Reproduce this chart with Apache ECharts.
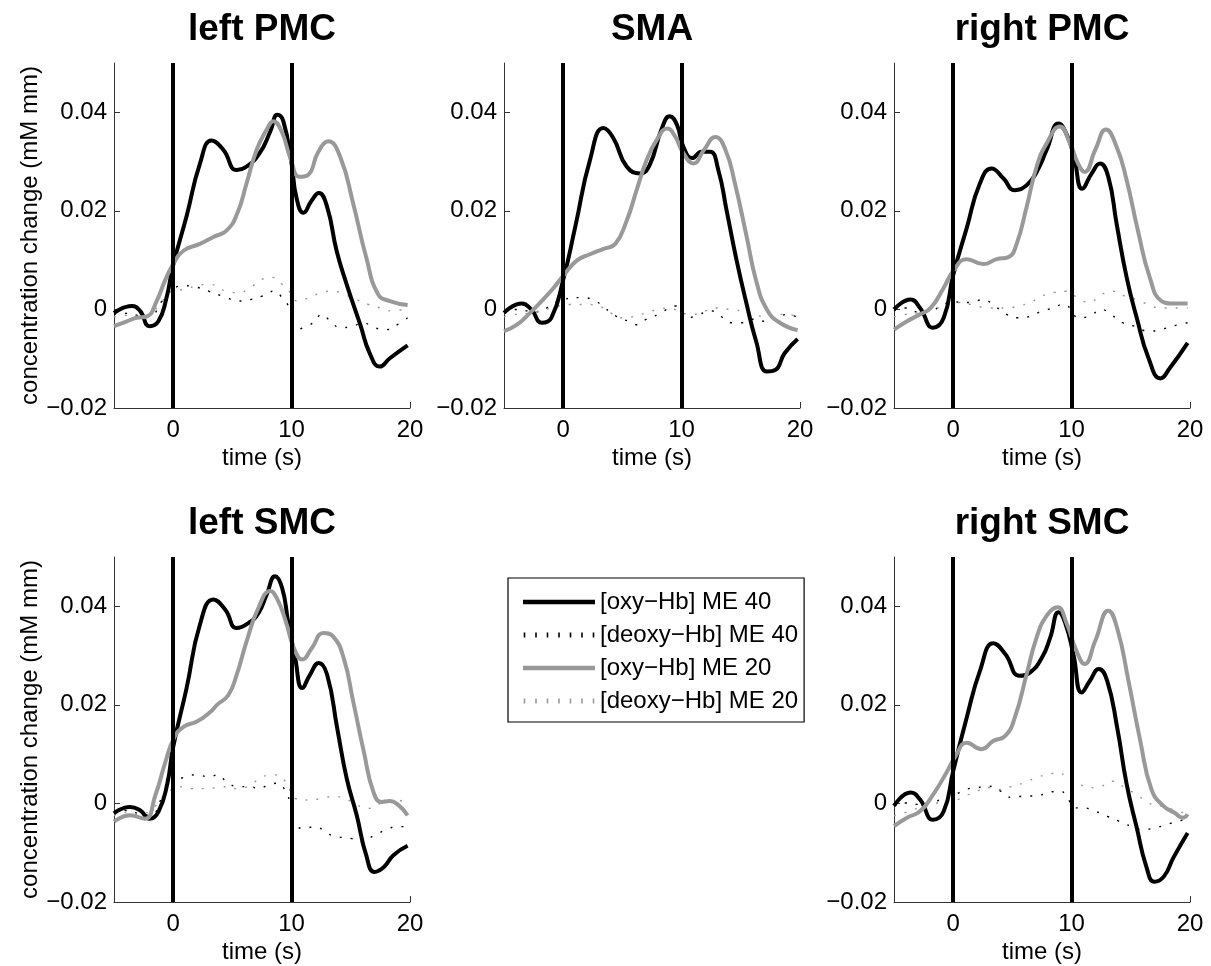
<!DOCTYPE html>
<html><head><meta charset="utf-8">
<script src="https://cdn.jsdelivr.net/npm/echarts@6/dist/echarts.min.js"></script>
<style>html,body{margin:0;padding:0;background:#fff}#c{width:1211px;height:966px}</style>
</head><body><div id="c"></div><script>
const panelTitles = ['left PMC', 'SMA', 'right PMC', 'left SMC', 'right SMC'];
const seriesNames = ['[oxy\u2212Hb] ME 40', '[deoxy\u2212Hb] ME 40', '[oxy\u2212Hb] ME 20', '[deoxy\u2212Hb] ME 20'];
const xTicks = [0, 10, 20];
const yTicks = [-0.02, 0, 0.02, 0.04];
const yTickLabels = ['\u22120.02', '0', '0.02', '0.04'];
const xRange = [-5, 20];
const yRange = [-0.02, 0.05];
const stimulusTimes = [0, 10];
const xAxisName = 'time (s)';
const yAxisName = 'concentration change (mM mm)';

// ---- left PMC ----
const leftPMC_oxy40 = [[-5,-0.0007],[-3.5,0.0007],[-2.8,-0.0003],[-2,-0.0034],[-1.25,-0.0024],[-0.6,0.002],[0,0.009],[1.14,0.019],[2.26,0.0296],[3.25,0.0343],[4.23,0.0324],[5.36,0.0283],[6.2,0.029],[7.3,0.0317],[8.2,0.0361],[8.8,0.0395],[9.3,0.0382],[10,0.0296],[10.4,0.0228],[11,0.0196],[11.7,0.0221],[12.3,0.0236],[13,0.0208],[13.8,0.0119],[14.65,0.0051],[15.8,-0.0031],[16.6,-0.0089],[17.45,-0.0116],[18.3,-0.0099],[19.8,-0.0073]];
const leftPMC_deoxy40 = [[-5,-0.001],[-4,-0.0008],[-3,-0.0012],[-2,-0.0015],[-1,0.0015],[0,0.0042],[1,0.0048],[2,0.0045],[3,0.0037],[4.5,0.0024],[5.5,0.0017],[6.5,0.002],[7.5,0.0027],[8.5,0.0037],[9.2,0.0024],[9.8,0.0003],[10.4,-0.0041],[11,-0.0037],[12,-0.0024],[12.5,-0.001],[13.3,-0.0024],[14.1,-0.0037],[15.2,-0.0034],[16,-0.0027],[17,-0.0037],[18,-0.0041],[19,-0.003],[19.8,-0.0017]];
const leftPMC_oxy20 = [[-5,-0.0034],[-3.9,-0.0024],[-3.1,-0.0017],[-2.2,-0.0014],[-1.4,0.0017],[-0.7,0.0058],[0,0.0092],[0.86,0.0119],[2.26,0.0133],[3.4,0.0147],[4.5,0.016],[5.4,0.0194],[6.2,0.0256],[7.05,0.0324],[7.9,0.0365],[8.46,0.0382],[9.16,0.0361],[9.86,0.031],[10.7,0.0269],[11.4,0.0273],[12.26,0.032],[13.1,0.0341],[14.1,0.031],[15.2,0.0215],[16.3,0.0106],[17.3,0.0031],[18.3,0.0017],[19.8,0.0009]];
const leftPMC_deoxy20 = [[-5,-0.0015],[-4,-0.0012],[-3,-0.0014],[-2,-0.001],[-1,0.0015],[0,0.0038],[1,0.0041],[2,0.0048],[3,0.0051],[4.5,0.0037],[5.5,0.0034],[6.5,0.0044],[7.5,0.0061],[8.4,0.0065],[9.2,0.0051],[9.8,0.0037],[10.5,0.0017],[11.5,0.0024],[12.5,0.0034],[13.5,0.0037],[14.5,0.003],[15.5,0.002],[16.5,0.001],[17.5,0.0003],[18.5,-0.0003],[19.8,0.0003]];

// ---- SMA ----
const SMA_oxy40 = [[-5,-0.0007],[-3.5,0.0012],[-2.7,0],[-1.8,-0.0027],[-1,-0.0017],[0,0.006],[1.04,0.017],[2.26,0.0303],[3.4,0.0368],[4.23,0.0348],[5.36,0.029],[6.5,0.0276],[7.3,0.0293],[8.3,0.0365],[9.0,0.0392],[9.6,0.0375],[10.15,0.033],[10.9,0.0307],[11.7,0.032],[12.4,0.032],[13.1,0.0283],[13.8,0.0201],[14.65,0.0099],[15.5,0.001],[16.3,-0.0065],[17.2,-0.0126],[17.9,-0.0123],[18.7,-0.0089],[19.8,-0.006]];
const SMA_deoxy40 = [[-5,-0.0005],[-4,0],[-3,-0.0003],[-2,-0.0005],[-1,0.001],[0,0.002],[1.5,0.0024],[2.5,0.002],[3.5,0.0003],[4.5,-0.0014],[5.5,-0.0024],[6.2,-0.0031],[7,-0.002],[8,-0.001],[9,0.0003],[9.5,0.0007],[10,-0.0005],[10.5,-0.0017],[11.5,-0.001],[12.5,-0.0003],[13.3,-0.0014],[14.3,-0.0027],[15,-0.0027],[16,-0.002],[17,-0.0024],[18,-0.0017],[19,-0.001],[19.8,-0.0017]];
const SMA_oxy20 = [[-5,-0.0044],[-3.9,-0.0031],[-2.8,-0.0007],[-1.7,0.002],[-0.8,0.0044],[0,0.0068],[1.14,0.0099],[2.26,0.0112],[3.4,0.0123],[4.4,0.0133],[5.36,0.018],[6.2,0.0242],[7.05,0.0303],[7.9,0.0344],[8.8,0.0367],[9.45,0.0351],[10.15,0.0317],[11,0.0296],[11.9,0.0324],[12.85,0.035],[13.7,0.0324],[14.5,0.0256],[15.5,0.0147],[16.3,0.0058],[17.2,0],[18.3,-0.0027],[19.8,-0.0042]];
const SMA_deoxy20 = [[-5,-0.0015],[-4,-0.001],[-3,-0.0008],[-2,-0.0003],[-1,0.0003],[0.5,0.001],[2,0.001],[3,0.0007],[4,-0.0007],[5,-0.0017],[6,-0.0014],[7,-0.0007],[8,0],[9,0.0003],[10,-0.0007],[11,-0.001],[12,-0.0003],[13,0.0003],[14,0],[15,-0.0003],[16,-0.001],[17,-0.0014],[18,-0.001],[19,-0.001],[19.8,-0.0017]];

// ---- right PMC ----
const rightPMC_oxy40 = [[-5,0],[-3.6,0.002],[-2.8,0.0003],[-1.7,-0.0037],[-0.8,-0.0017],[0,0.007],[1.14,0.0165],[2.26,0.0256],[3.25,0.0286],[4.23,0.0266],[5.2,0.0242],[6.2,0.0252],[7.05,0.0279],[7.9,0.0324],[8.9,0.0377],[9.6,0.0354],[10.2,0.031],[10.9,0.0245],[11.7,0.0276],[12.4,0.0296],[13.1,0.0269],[13.8,0.0174],[14.65,0.0065],[15.5,-0.0017],[16.5,-0.0099],[17.5,-0.014],[18.3,-0.0119],[19.8,-0.0068]];
const rightPMC_deoxy40 = [[-5,-0.0003],[-4,0.0003],[-3,-0.0005],[-2,-0.0005],[-1,0.0008],[0,0.0015],[1.5,0.0014],[2.5,0.002],[3.5,0.0007],[4.5,-0.001],[5.5,-0.0017],[6.5,-0.0014],[7.5,-0.0003],[8.5,0.0003],[9.2,0.001],[10,0],[10.5,-0.0017],[11.5,-0.0014],[12.5,0],[13.3,-0.001],[14.3,-0.0027],[15.3,-0.0034],[16.5,-0.0044],[17.5,-0.0041],[18.5,-0.0034],[19.8,-0.0027]];
const rightPMC_oxy20 = [[-5,-0.0041],[-3.9,-0.0024],[-2.8,-0.001],[-1.9,0.0003],[-0.8,0.0044],[0,0.0078],[1.14,0.0102],[2.55,0.0092],[3.67,0.0102],[4.66,0.0106],[5.36,0.0133],[6.2,0.0208],[7.05,0.029],[7.9,0.0337],[9.0,0.0371],[9.86,0.0337],[10.55,0.0296],[11.1,0.0279],[12,0.0324],[12.9,0.0365],[13.8,0.033],[14.65,0.0262],[15.6,0.016],[16.6,0.0065],[17.6,0.0017],[18.6,0.0012],[19.8,0.0012]];
const rightPMC_deoxy20 = [[-5,-0.0015],[-4,-0.001],[-3,-0.0007],[-2,-0.0003],[-1,0.0005],[0.5,0.0014],[1.5,0.001],[3,0.0003],[4.5,0.0003],[5.5,0.0007],[6.5,0.0014],[7.5,0.0027],[8.5,0.0034],[9.5,0.0037],[10.5,0.0024],[11.5,0.0014],[12.5,0.003],[13.5,0.0037],[14.5,0.0027],[15.5,0.002],[16.5,0.001],[17.5,0.0003],[18.5,0.0003],[19.8,0.0003]];

// ---- left SMC ----
const leftSMC_oxy40 = [[-5,-0.002],[-3.65,-0.0007],[-2.8,-0.0014],[-2,-0.0031],[-1.25,-0.0017],[-0.5,0.004],[0,0.0115],[1.14,0.0235],[2.26,0.0363],[3.4,0.0414],[4.4,0.0393],[5.36,0.0356],[6.35,0.0366],[7.2,0.0386],[7.9,0.0424],[8.6,0.0461],[9.2,0.0437],[9.7,0.037],[10.3,0.0295],[10.9,0.0234],[11.55,0.0261],[12.3,0.0285],[13,0.0261],[13.85,0.0153],[14.65,0.0051],[15.5,-0.0024],[16.3,-0.0105],[17.0,-0.0139],[17.8,-0.0129],[18.6,-0.0105],[19.8,-0.0086]];
const leftSMC_deoxy40 = [[-5,-0.002],[-4,-0.0014],[-3,-0.002],[-2,-0.0024],[-0.5,0.003],[1,0.0054],[2,0.0058],[3,0.0054],[3.8,0.0058],[4.5,0.0044],[5.5,0.0034],[6.5,0.0034],[7.2,0.003],[8,0.0037],[8.8,0.0041],[9.5,0.0024],[9.9,-0.0003],[10.2,-0.0037],[11,-0.0051],[12,-0.0047],[13,-0.0061],[14,-0.0068],[15,-0.0071],[16,-0.0078],[16.5,-0.0071],[17.3,-0.0061],[18.2,-0.0051],[19,-0.0047],[19.8,-0.0047]];
const leftSMC_oxy20 = [[-5,-0.0037],[-3.65,-0.0024],[-2.4,-0.0031],[-1.5,0.0017],[-0.65,0.0085],[0.06,0.0132],[0.9,0.0156],[2,0.0166],[3.15,0.0186],[3.7,0.02],[4.66,0.022],[5.36,0.0261],[6.2,0.0329],[7.2,0.0397],[8.2,0.0431],[8.8,0.0414],[9.5,0.037],[10.2,0.0315],[10.9,0.0292],[11.7,0.0315],[12.7,0.0346],[13.5,0.0339],[14.4,0.0295],[15.2,0.0207],[16.1,0.0105],[16.9,0.0024],[17.6,0.0003],[18.3,0.0005],[19,-0.0003],[19.8,-0.0024]];
const leftSMC_deoxy20 = [[-5,-0.0025],[-4,-0.0018],[-3,-0.0022],[-2,-0.0015],[-0.5,0.002],[0.5,0.0034],[1.5,0.003],[3,0.003],[4,0.0034],[5.5,0.003],[6.5,0.0037],[7.5,0.0054],[8.5,0.0058],[9.5,0.0044],[10.3,0.001],[11.5,0.0007],[12.5,0.001],[13.5,0.0014],[14.5,0.001],[15.5,-0.0003],[16.5,-0.001],[17.5,0],[18.5,0.0007],[19.8,0.0003]];

// ---- right SMC ----
const rightSMC_oxy40 = [[-5,-0.0005],[-3.6,0.0022],[-2.8,0.0008],[-1.7,-0.0033],[-0.8,-0.0016],[0,0.0066],[1.14,0.0174],[2.26,0.0269],[3.4,0.0325],[4.4,0.0303],[5.6,0.0259],[6.5,0.0266],[7.5,0.0296],[8.2,0.0337],[8.9,0.0388],[9.45,0.0367],[10.15,0.0303],[10.85,0.0225],[11.55,0.0249],[12.3,0.0273],[13,0.0249],[13.85,0.0154],[14.65,0.0039],[15.5,-0.0049],[16.3,-0.0127],[17,-0.0159],[17.8,-0.0148],[18.6,-0.011],[19.8,-0.006]];
const rightSMC_deoxy40 = [[-5,-0.0003],[-4,0.0001],[-3,-0.0002],[-2,0.0001],[-1,0.0008],[0,0.0015],[1,0.0028],[2,0.0032],[3,0.0035],[4,0.0025],[5,0.0012],[6,0.0015],[7,0.0015],[8,0.0022],[9,0.0025],[9.5,0.0018],[10.3,-0.0009],[11,-0.0009],[12,-0.0016],[13,-0.0026],[14,-0.0036],[15,-0.0046],[16,-0.0053],[17,-0.005],[18,-0.0043],[19,-0.0036],[19.8,-0.0032]];
const rightSMC_oxy20 = [[-5,-0.0046],[-3.9,-0.0029],[-2.8,-0.0016],[-1.7,0.0018],[-0.65,0.0059],[0.2,0.0096],[1.14,0.0123],[2.4,0.011],[3.4,0.0127],[4.4,0.0137],[5.2,0.0174],[6.2,0.0262],[7.05,0.0337],[7.9,0.0381],[8.8,0.0398],[9.6,0.0364],[10.4,0.031],[11.1,0.0283],[12,0.033],[13.1,0.0391],[13.9,0.0351],[14.8,0.0249],[15.8,0.0127],[16.75,0.0028],[17.75,-0.0005],[18.7,-0.0019],[19.4,-0.0029],[19.8,-0.0022]];
const rightSMC_deoxy20 = [[-5,-0.0025],[-4,-0.0018],[-3,-0.001],[-2,-0.0005],[-1,0.0003],[0,0.0005],[1,0.0015],[2,0.0025],[3,0.0032],[4,0.0028],[5,0.0035],[6,0.0042],[7,0.0052],[8,0.0059],[9,0.0062],[9.5,0.0055],[10.5,0.0042],[11.5,0.0032],[12.5,0.0035],[13.5,0.0045],[14.5,0.0032],[15.5,0.0018],[16.5,0.0001],[17.5,-0.0005],[18.5,-0.0012],[19.8,-0.0022]];

const panelData = [
  [leftPMC_oxy40, leftPMC_deoxy40, leftPMC_oxy20, leftPMC_deoxy20],
  [SMA_oxy40, SMA_deoxy40, SMA_oxy20, SMA_deoxy20],
  [rightPMC_oxy40, rightPMC_deoxy40, rightPMC_oxy20, rightPMC_deoxy20],
  [leftSMC_oxy40, leftSMC_deoxy40, leftSMC_oxy20, leftSMC_deoxy20],
  [rightSMC_oxy40, rightSMC_deoxy40, rightSMC_oxy20, rightSMC_deoxy20]
];

// ---- layout & style ----
const FONT = '"Liberation Sans", Arial, Helvetica, sans-serif';
const panelBoxes = [
  {left: 114, top: 63, showY: true},
  {left: 504, top: 63, showY: false},
  {left: 894, top: 63, showY: false},
  {left: 114, top: 557, showY: true},
  {left: 894, top: 557, showY: false}
];
const PW = 296, PH = 345;
const DOT_ICON = 'path://M0,0h1.6v5h-1.6z M11.5,0h1.6v5h-1.6z M23,0h1.6v5h-1.6z M34.5,0h1.6v5h-1.6z M46,0h1.6v5h-1.6z M57.5,0h1.6v5h-1.6z M69,0h1.6v5h-1.6z';
const LINE_ICON = 'path://M0,0.3H72V4.7H0Z';
const seriesStyles = [
  {color: '#000000', width: 4, type: 'solid', icon: LINE_ICON},
  {color: '#000000', width: 1.4, type: [2, 9], icon: DOT_ICON},
  {color: '#999999', width: 4, type: 'solid', icon: LINE_ICON},
  {color: '#999999', width: 1.4, type: [2, 9], icon: DOT_ICON}
];
const drawOrder = [1, 3, 0, 2];

const grids = [], xAxes = [], yAxes = [], titles = [], series = [];
panelBoxes.forEach((b, i) => {
  grids.push({left: b.left, top: b.top, width: PW, height: PH, outerBoundsMode: 'none', containLabel: false});
  titles.push({
    text: panelTitles[i], left: b.left + PW / 2, top: b.top - 52, textAlign: 'center', padding: 0,
    textStyle: {fontFamily: FONT, fontSize: 37, fontWeight: 'bold', color: '#000'}
  });
  xAxes.push({
    type: 'value', gridIndex: i, min: xRange[0], max: xRange[1],
    name: xAxisName, nameLocation: 'middle', nameGap: 38,
    nameTextStyle: {fontFamily: FONT, fontSize: 24, color: '#000'},
    axisLine: {show: true, onZero: false, lineStyle: {color: '#333', width: 1}},
    axisTick: {show: true, inside: true, length: 6, customValues: xTicks, lineStyle: {color: '#333'}},
    axisLabel: {customValues: xTicks, margin: 10, fontFamily: FONT, fontSize: 24, color: '#000'},
    splitLine: {show: false}
  });
  yAxes.push({
    type: 'value', gridIndex: i, min: yRange[0], max: yRange[1],
    name: b.showY ? yAxisName : '', nameLocation: 'middle', nameGap: 72,
    nameTextStyle: {fontFamily: FONT, fontSize: 24, color: '#000'},
    axisLine: {show: true, onZero: false, lineStyle: {color: '#333', width: 1}},
    axisTick: {show: true, inside: true, length: 6, customValues: yTicks, lineStyle: {color: '#333'}},
    axisLabel: {
      customValues: yTicks, margin: 7, fontFamily: FONT, fontSize: 24, color: '#000',
      formatter: v => { const k = yTicks.findIndex(t => Math.abs(t - v) < 1e-9); return k >= 0 ? yTickLabels[k] : ''; }
    },
    splitLine: {show: false}
  });
  drawOrder.forEach(k => {
    const st = seriesStyles[k];
    series.push({
      type: 'line', name: seriesNames[k], xAxisIndex: i, yAxisIndex: i,
      data: panelData[i][k], smooth: 0.5, symbol: 'none', showSymbol: false,
      lineStyle: {color: st.color, width: st.width, type: st.type, cap: 'butt'},
      itemStyle: {color: st.color, borderWidth: 0},
      emphasis: {disabled: true}, silent: true, z: k % 2 === 0 ? 3 : 2, clip: true
    });
  });
  series.push({
    type: 'line', xAxisIndex: i, yAxisIndex: i, data: [], silent: true, z: 5,
    markLine: {
      silent: true, symbol: ['none', 'none'], label: {show: false},
      lineStyle: {color: '#000', width: 4, type: 'solid'},
      emphasis: {disabled: true},
      data: stimulusTimes.map(t => ({xAxis: t}))
    }
  });
});

const chart = echarts.init(document.getElementById('c'), null, {renderer: 'canvas'});
chart.setOption({
  animation: false,
  backgroundColor: '#fff',
  title: titles,
  legend: {
    data: seriesNames.map((n, k) => ({name: n, icon: seriesStyles[k].icon, itemStyle: {color: seriesStyles[k].color, borderWidth: 0}})),
    orient: 'vertical', left: 508, top: 578,
    backgroundColor: '#fff', borderColor: '#000', borderWidth: 1.2,
    padding: [12, 6, 9, 15], itemWidth: 72, itemHeight: 5, itemGap: 9,
    itemStyle: {borderWidth: 0},
    textStyle: {fontFamily: FONT, fontSize: 24, color: '#000', lineHeight: 24},
    selectedMode: false
  },
  grid: grids, xAxis: xAxes, yAxis: yAxes, series: series
});
</script></body></html>
